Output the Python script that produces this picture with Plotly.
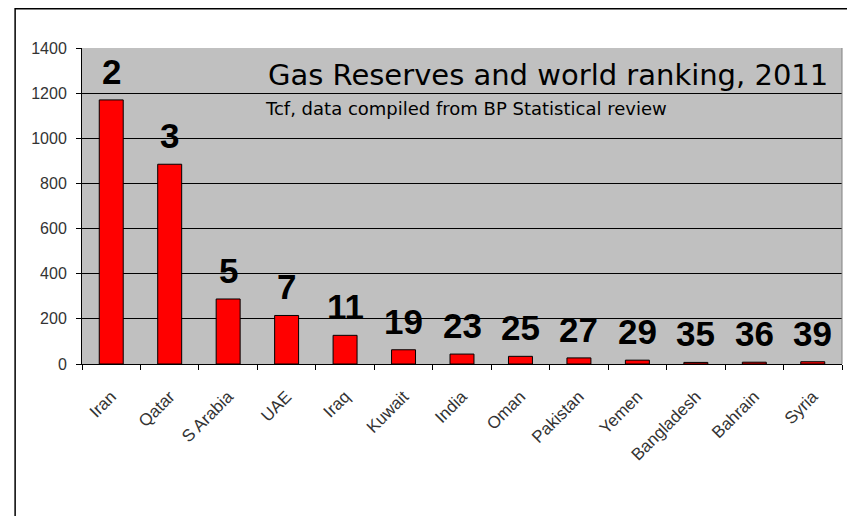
import plotly.graph_objects as go

countries = ["Iran", "Qatar", "S Arabia", "UAE", "Iraq", "Kuwait", "India",
             "Oman", "Pakistan", "Yemen", "Bangladesh", "Bahrain", "Syria"]
reserves_tcf = [1170, 885, 288, 215, 127, 63, 44, 34, 27, 17, 7, 8, 10]
world_rank = ["2", "3", "5", "7", "11", "19", "23", "25", "27", "29", "35", "36", "39"]
yticks = [0, 200, 400, 600, 800, 1000, 1200, 1400]

ARIAL = "Arial, Liberation Sans, sans-serif"
WIDE = "DejaVu Sans, Verdana, sans-serif"

fig = go.Figure()
fig.add_trace(go.Bar(
    x=countries, y=reserves_tcf,
    marker=dict(color="#ff0000", line=dict(color="#000000", width=1)),
    hoverinfo="x+y",
))

for c, v, r in zip(countries, reserves_tcf, world_rank):
    fig.add_annotation(x=c, y=v, text="<b>" + r + "</b>", showarrow=False, yanchor="bottom",
                       yshift=7, font=dict(family=ARIAL, size=35, color="#000"))

fig.add_annotation(xref="paper", yref="paper", x=0.984, y=0.915, xanchor="right", yanchor="middle",
                   text="Gas Reserves and world ranking, 2011", showarrow=False,
                   font=dict(family=WIDE, size=29, color="#000"))
fig.add_annotation(xref="paper", yref="paper", x=0.238, y=0.81, xanchor="left", yanchor="middle",
                   text="Tcf, data compiled from BP Statistical review", showarrow=False,
                   font=dict(family=WIDE, size=18, color="#000"))

# outer chart border (top/left/right visible, bottom beyond the picture)
fig.add_shape(type="rect", xref="paper", yref="paper", x0=-0.088, x1=1.008, y0=-0.6, y1=1.124,
              line=dict(color="#000", width=1.5), layer="below")

fig.update_layout(
    width=847, height=508,
    margin=dict(l=74, r=13, t=40, b=152),
    paper_bgcolor="white", plot_bgcolor="#c0c0c0",
    bargap=0.59, showlegend=False,
    font=dict(family=ARIAL, color="#222"),
    xaxis=dict(type="category", tickangle=-45, tickson="boundaries", ticks="outside",
               ticklen=5, tickcolor="#000", showline=True, linecolor="#000", linewidth=1,
               tickfont=dict(size=17, color="#333"), showgrid=False, ticklabelstandoff=15),
    yaxis=dict(range=[0, 1400], tickvals=yticks, ticks="outside", ticklen=5, tickcolor="#000",
               showline=True, linecolor="#000", linewidth=1, gridcolor="#000", gridwidth=1,
               tickfont=dict(size=16, color="#333"), zeroline=False, ticklabelstandoff=6),
)
fig.add_shape(type="line", xref="paper", yref="paper", x0=1, x1=1, y0=0, y1=1,
              line=dict(color="#808080", width=1))

fig.write_html("out.html")
